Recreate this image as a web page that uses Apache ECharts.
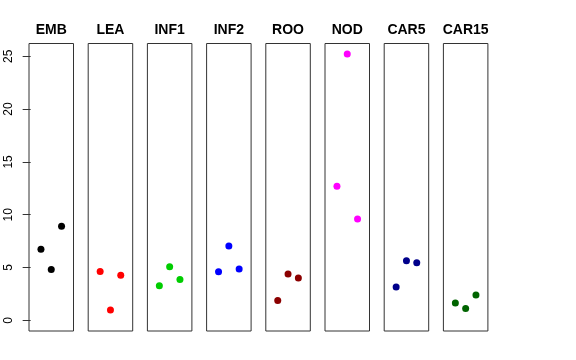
<!DOCTYPE html>
<html>
<head>
<meta charset="utf-8">
<script src="https://cdn.jsdelivr.net/npm/echarts@6/dist/echarts.min.js"></script>
<style>html,body{margin:0;padding:0;background:#fff}#c{width:576px;height:360px}</style>
</head>
<body>
<div id="c"></div>
<script>
const panels = ['EMB', 'LEA', 'INF1', 'INF2', 'ROO', 'NOD', 'CAR5', 'CAR15'];
const colors = ['#000000', '#FF0000', '#00CD00', '#0000FF', '#8B0000', '#FF00FF', '#00008B', '#006400'];
const xPos = [1, 2, 3];
const EMB = [6.74, 4.82, 8.91];
const LEA = [4.63, 0.98, 4.28];
const INF1 = [3.28, 5.07, 3.87];
const INF2 = [4.60, 7.05, 4.85];
const ROO = [1.89, 4.38, 4.00];
const NOD = [12.69, 25.21, 9.60];
const CAR5 = [3.15, 5.64, 5.45];
const CAR15 = [1.64, 1.13, 2.40];
const yTicks = [0, 5, 10, 15, 20, 25];

const values = [EMB, LEA, INF1, INF2, ROO, NOD, CAR5, CAR15];
const yMax = 25.2, yMin = 0;
const pad = (yMax - yMin) * 0.04;

const grids = [], xAxes = [], yAxes = [], series = [];
panels.forEach((name, i) => {
  grids.push({
    left: 29 + i * 59.2, top: 43.5, width: 44.5, height: 287.5,
    show: true, borderColor: '#333', borderWidth: 1, backgroundColor: 'transparent'
  });
  xAxes.push({
    gridIndex: i, type: 'value', min: -0.16, max: 4.16, position: 'top',
    axisLine: {show: false}, axisTick: {show: false}, axisLabel: {show: false}, splitLine: {show: false},
    name: name, nameLocation: 'middle', nameGap: 6,
    nameTextStyle: {fontFamily: 'Liberation Sans', fontWeight: 'bold', fontSize: 14, color: '#000'}
  });
  yAxes.push({
    gridIndex: i, type: 'value', min: yMin - pad, max: yMax + pad,
    axisLine: {show: false}, splitLine: {show: false},
    axisTick: i === 0 ? {show: true, length: 8, customValues: yTicks, lineStyle: {color: '#333'}} : {show: false},
    axisLabel: i === 0 ? {show: true, customValues: yTicks, rotate: 90, margin: 14, fontSize: 12,
      fontFamily: 'Liberation Sans', color: '#000'} : {show: false}
  });
  series.push({
    type: 'scatter', xAxisIndex: i, yAxisIndex: i, symbol: 'circle', symbolSize: 7,
    itemStyle: {color: colors[i], opacity: 1}, silent: true,
    data: xPos.map((x, j) => [x, values[i][j]])
  });
});

const chart = echarts.init(document.getElementById('c'), null, {renderer: 'canvas'});
chart.setOption({animation: false, grid: grids, xAxis: xAxes, yAxis: yAxes, series: series});
</script>
</body>
</html>
